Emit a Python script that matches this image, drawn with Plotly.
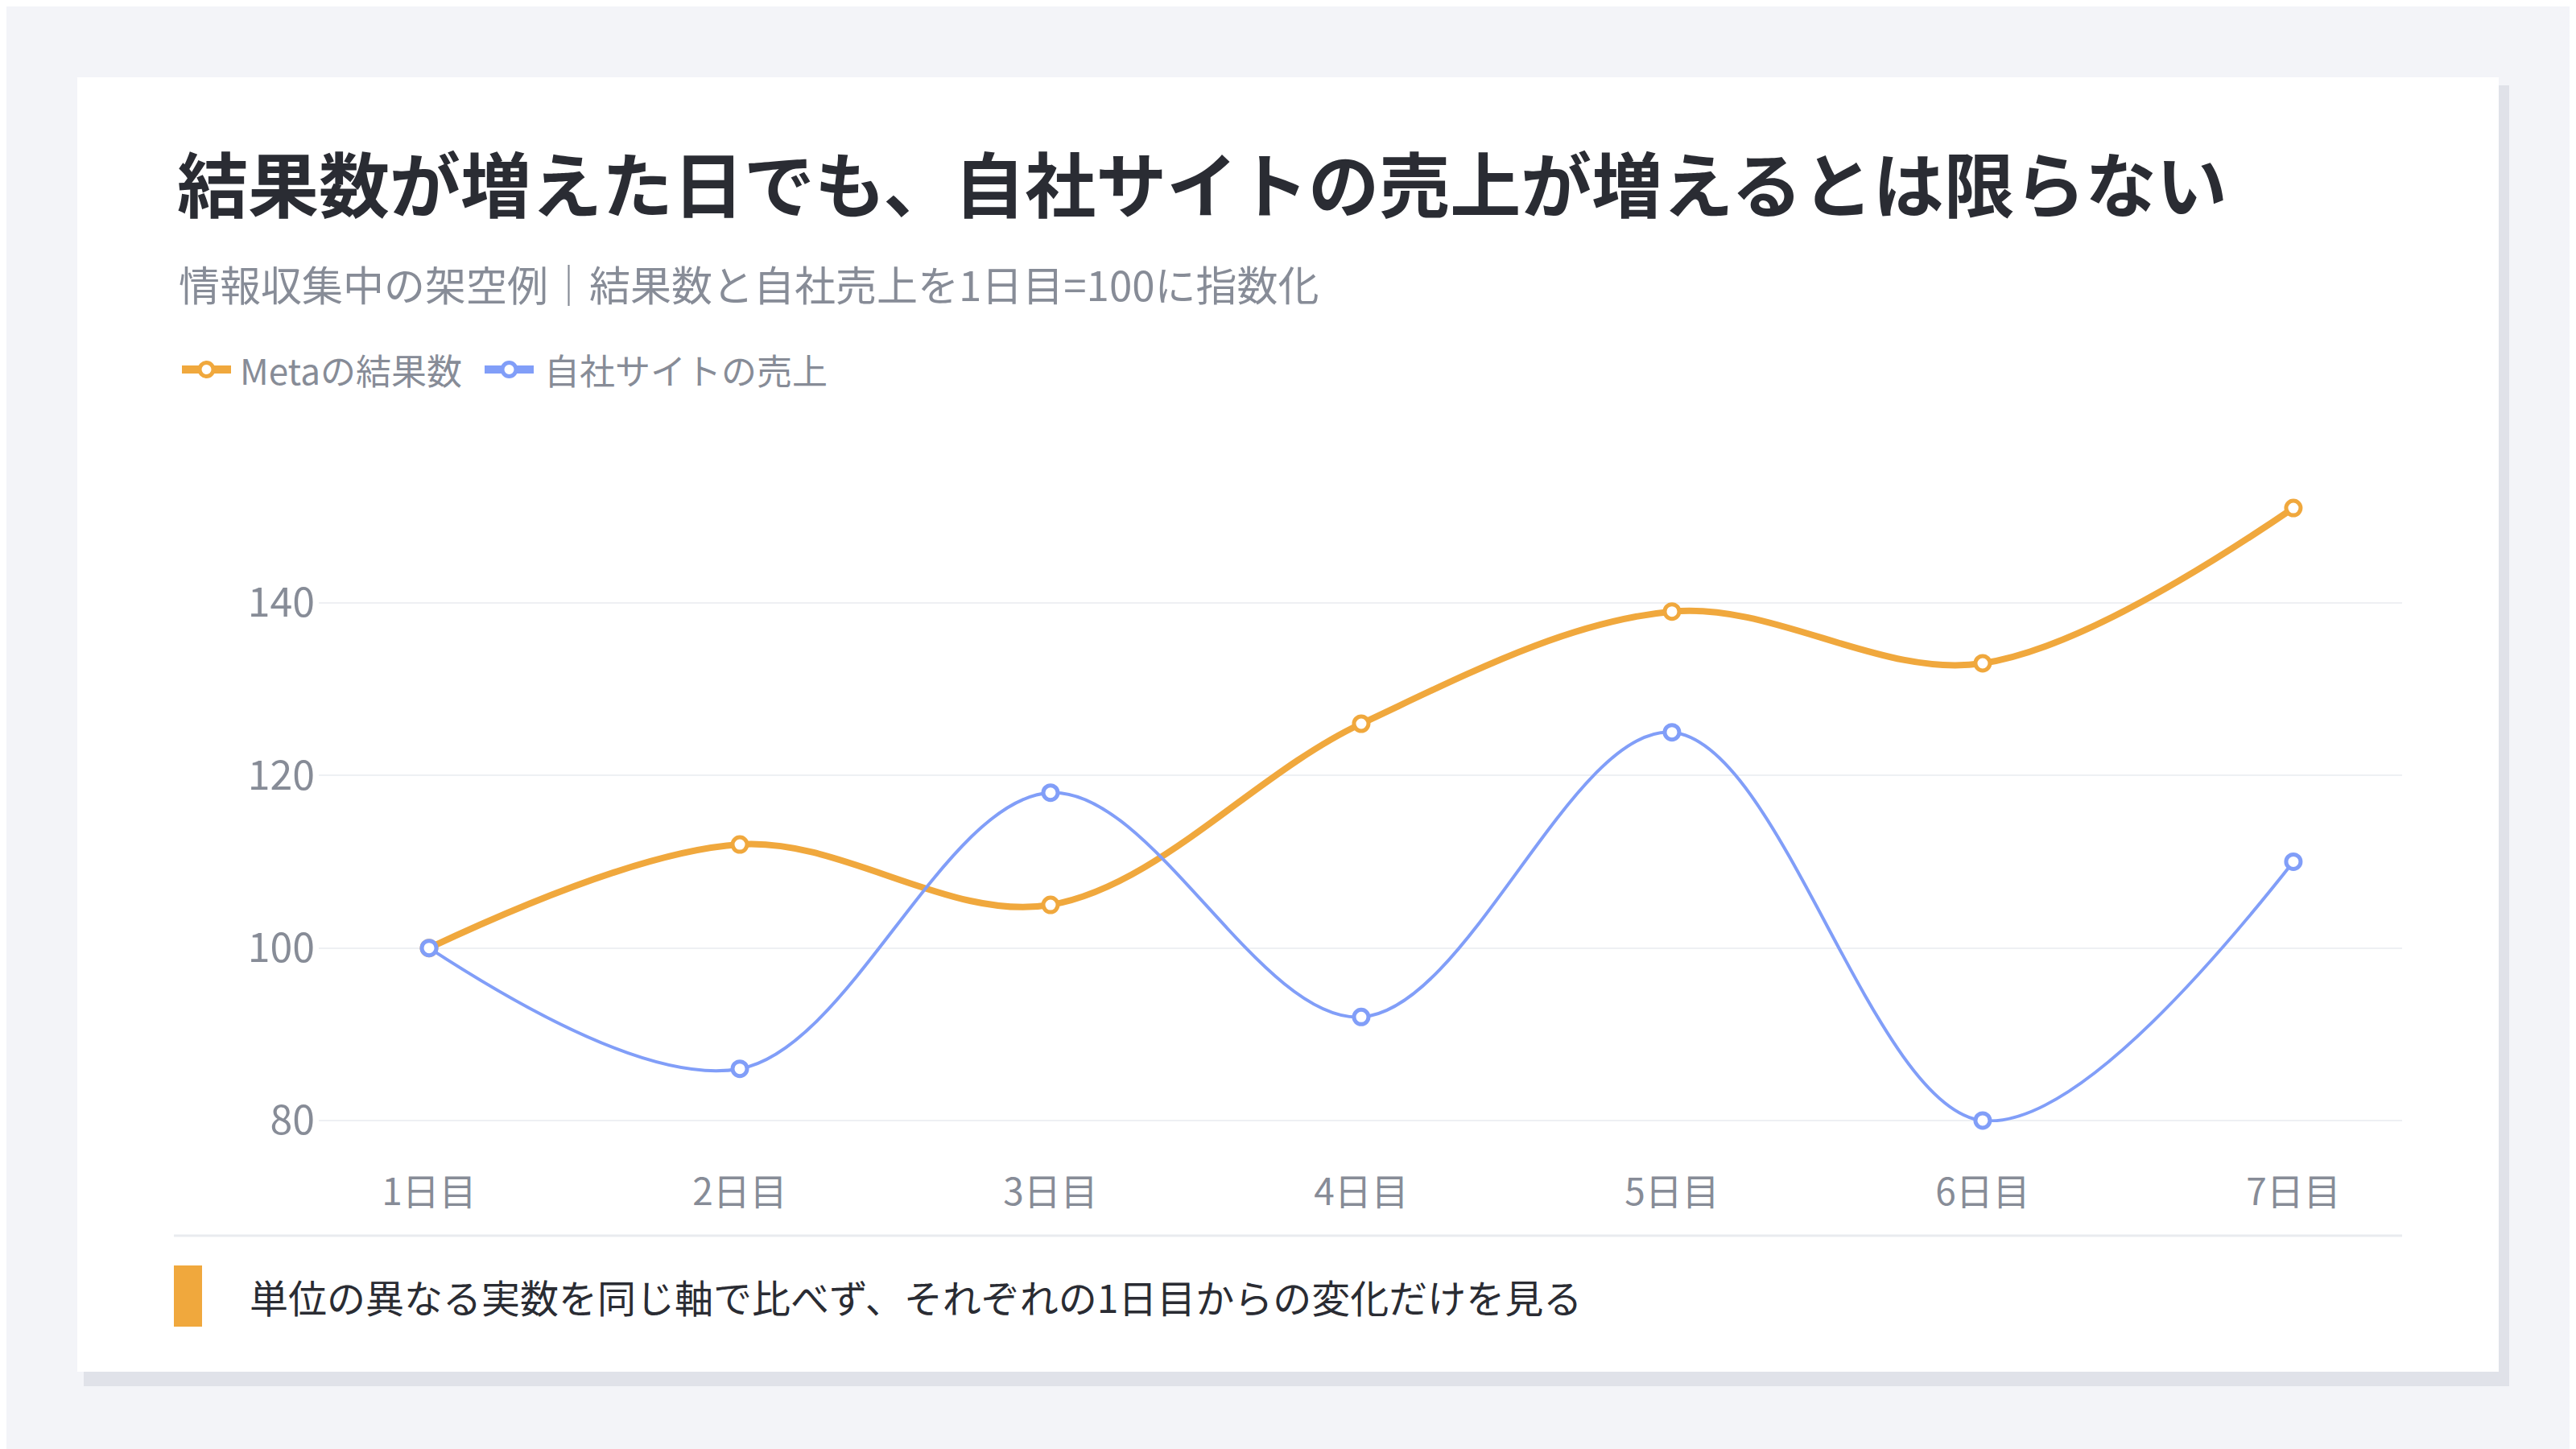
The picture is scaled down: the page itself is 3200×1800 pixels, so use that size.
import plotly.graph_objects as go

# Chart data (index, day 1 = 100)
days = ["1日目", "2日目", "3日目", "4日目", "5日目", "6日目", "7日目"]
meta_results = [100, 112, 105, 126, 139, 133, 151]
site_sales = [100, 86, 118, 92, 125, 80, 110]
y_ticks = [80, 100, 120, 140]
series_names = ["Metaの結果数", "自社サイトの売上"]

title = "結果数が増えた日でも、自社サイトの売上が増えるとは限らない"
subtitle = "情報収集中の架空例｜結果数と自社売上を1日目=100に指数化"
note = "単位の異なる実数を同じ軸で比べず、それぞれの1日目からの変化だけを見る"

# the page body keeps its default 8px margin, so the figure is laid out
# in window pixels and shifted by that offset
OFF = 8
W, H = 3200 - OFF, 1800 - OFF
FONT = "Noto Sans CJK JP"
ORANGE = "#F0A83D"
BLUE = "#819EF8"
GRAY = "#878C97"
DARK = "#2A2C33"


def px(x):
    return (x - OFF) / W


def py(y):
    return 1 - (y - OFF) / H


fig = go.Figure()

for name, vals, color, width in [
    (series_names[0], meta_results, ORANGE, 8),
    (series_names[1], site_sales, BLUE, 4),
]:
    fig.add_trace(go.Scatter(
        x=days, y=vals, name=name,
        mode="lines+markers",
        line=dict(color=color, width=width, shape="spline", smoothing=1),
        marker=dict(symbol="circle", size=18, color="white",
                    line=dict(color=color, width=5)),
        cliponaxis=False, showlegend=False,
    ))

# card background + shadow, footer rule and accent bar
shapes = [
    dict(type="rect", xref="paper", yref="paper", layer="below",
         x0=px(104), x1=px(3117), y0=py(1722), y1=py(106),
         fillcolor="#E0E2E9", line_width=0),
    dict(type="rect", xref="paper", yref="paper", layer="below",
         x0=px(96), x1=px(3104), y0=py(1704), y1=py(96),
         fillcolor="white", line_width=0),
    dict(type="line", xref="paper", yref="paper",
         x0=px(216), x1=px(2984), y0=py(1535), y1=py(1535),
         line=dict(color="#E9EBEF", width=3)),
    dict(type="rect", xref="paper", yref="paper",
         x0=px(216), x1=px(251), y0=py(1648), y1=py(1572),
         fillcolor=ORANGE, line_width=0),
]

annotations = [
    dict(text=title, x=px(218), y=py(224), xref="paper", yref="paper",
         xanchor="left", yanchor="middle", showarrow=False,
         font=dict(family=FONT, size=88, color=DARK, weight=700)),
    dict(text=subtitle, x=px(220), y=py(352), xref="paper", yref="paper",
         xanchor="left", yanchor="middle", showarrow=False,
         font=dict(family=FONT, size=51, color=GRAY)),
    dict(text=note, x=px(308), y=py(1610), xref="paper", yref="paper",
         xanchor="left", yanchor="middle", showarrow=False,
         font=dict(family=FONT, size=48, color=DARK)),
]

# legend drawn by hand: short thick line with a hollow dot, then the name
legend_items = [(series_names[0], ORANGE, 226, 296), (series_names[1], BLUE, 602, 674)]
LEG_Y = 459
for name, color, sx, tx in legend_items:
    shapes.append(dict(type="line", xref="paper", yref="paper",
                       x0=px(sx), x1=px(sx + 61), y0=py(LEG_Y), y1=py(LEG_Y),
                       line=dict(color=color, width=10)))
    cx = sx + 30.5
    shapes.append(dict(type="circle", xref="paper", yref="paper",
                       x0=px(cx - 8.5), x1=px(cx + 8.5),
                       y0=py(LEG_Y + 8.5), y1=py(LEG_Y - 8.5),
                       fillcolor="white", line=dict(color=color, width=5)))
    annotations.append(dict(text=name, x=px(tx), y=py(LEG_Y), xref="paper", yref="paper",
                            xanchor="left", yanchor="middle", showarrow=False,
                            font=dict(family=FONT, size=44, color=GRAY)))

fig.update_layout(
    template="none",
    width=W, height=H,
    margin=dict(l=0, r=0, t=0, b=0),
    paper_bgcolor="#F3F4F8",
    plot_bgcolor="rgba(0,0,0,0)",
    font=dict(family=FONT, color=GRAY),
    shapes=shapes,
    annotations=annotations,
    showlegend=False,
    xaxis=dict(
        domain=[px(396), px(2984)],
        range=[-0.355, 6.35],
        showgrid=False, zeroline=False, showline=False,
        ticks="", tickfont=dict(size=46, color=GRAY),
        ticklabelstandoff=56, automargin=False,
    ),
    yaxis=dict(
        domain=[py(1394.1), py(577.5)],
        range=[79.8, 156],
        tickvals=y_ticks,
        showgrid=True, gridcolor="#EEF0F3", gridwidth=2,
        zeroline=False, showline=False,
        ticks="", tickfont=dict(size=50, color=GRAY),
        ticklabelstandoff=4, automargin=False,
    ),
)

fig.write_html("out.html")
